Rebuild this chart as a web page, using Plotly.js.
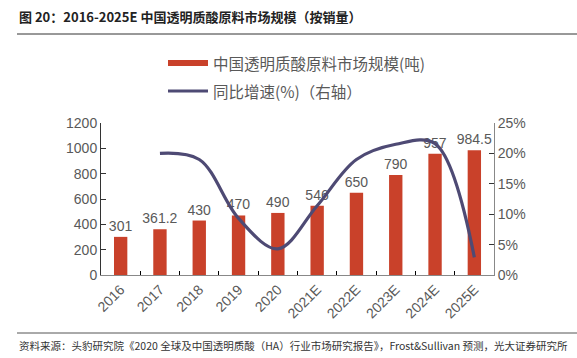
<!DOCTYPE html>
<html>
<head>
<meta charset="utf-8">
<script src="https://cdn.plot.ly/plotly-3.0.1.min.js"></script>
<style>
html,body{margin:0;padding:0;background:#fff;}
#chart{width:577px;height:358px;}
</style>
</head>
<body>
<div id="chart"></div>
<script>
var years = ['2016','2017','2018','2019','2020','2021E','2022E','2023E','2024E','2025E'];
var volume = [301, 361.2, 430, 470, 490, 546, 650, 790, 957, 984.5];
var volumeLabels = ['301','361.2','430','470','490','546','650','790','957','984.5'];
var growthYears = ['2017','2018','2019','2020','2021E','2022E','2023E','2024E','2025E'];
var growth = [20.0, 19.0, 9.3, 4.3, 11.4, 19.0, 21.5, 21.6, 2.9];
var leftTicks = [0, 200, 400, 600, 800, 1000, 1200];
var rightTicks = [0, 5, 10, 15, 20, 25];

var titleText = '图 20：2016-2025E 中国透明质酸原料市场规模（按销量）';
var barName = '中国透明质酸原料市场规模(吨)';
var lineName = '同比增速(%)（右轴）';
var sourceText = '资料来源：头豹研究院《2020 全球及中国透明质酸（HA）行业市场研究报告》，Frost&Sullivan 预测，光大证券研究所';

var gray = '#595959';
var barColor = '#C9412A';
var lineColor = '#4E4A74';
var numFont = 'Liberation Sans, Arial, sans-serif';
var cjkFont = 'Noto Sans CJK SC, sans-serif';

var traces = [
  {
    type: 'bar', x: years, y: volume, name: barName,
    marker: {color: barColor},
    text: volumeLabels, textposition: 'outside', cliponaxis: false,
    constraintext: 'none',
    textfont: {family: numFont, size: 14, color: gray},
    hoverinfo: 'none'
  },
  {
    type: 'scatter', mode: 'lines', x: growthYears, y: growth, name: lineName,
    yaxis: 'y2',
    line: {color: lineColor, width: 3.2, shape: 'spline', smoothing: 1},
    hoverinfo: 'none'
  }
];

var layout = {
  width: 577, height: 358,
  margin: {l: 101, r: 83, t: 123, b: 83},
  paper_bgcolor: '#fff', plot_bgcolor: '#fff',
  showlegend: false,
  bargap: 0.66,
  font: {family: numFont, color: gray, size: 14},
  xaxis: {
    type: 'category', tickangle: -45, tickson: 'boundaries',
    ticks: 'inside', ticklen: 4, tickcolor: '#000',
    showline: true, linecolor: '#888', linewidth: 1,
    tickfont: {family: numFont, size: 14, color: gray},
    showgrid: false, zeroline: false, fixedrange: true
  },
  yaxis: {
    range: [0, 1200], tickvals: leftTicks, ticktext: leftTicks.map(String),
    ticks: 'inside', ticklen: 5, tickcolor: '#333',
    showline: true, linecolor: '#333', linewidth: 1,
    showgrid: false, zeroline: false,
    tickfont: {family: numFont, size: 14, color: gray}
  },
  yaxis2: {
    overlaying: 'y', side: 'right', range: [0, 25],
    tickvals: rightTicks, ticktext: rightTicks.map(function(v){return v + '%';}),
    ticks: 'inside', ticklen: 5, tickcolor: '#333',
    showline: true, linecolor: '#888', linewidth: 1,
    showgrid: false, zeroline: false,
    tickfont: {family: numFont, size: 14, color: gray}
  },
  shapes: [
    {type: 'line', xref: 'paper', yref: 'paper', x0: (17-101)/393, x1: 476/393, y0: 1 + (123-34)/152, y1: 1 + (123-34)/152, line: {color: '#333', width: 1}},
    {type: 'line', xref: 'paper', yref: 'paper', x0: (17-101)/393, x1: 476/393, y0: -(333-275)/152, y1: -(333-275)/152, line: {color: '#555', width: 1}},
    {type: 'line', xref: 'paper', yref: 'paper', x0: (168-101)/393, x1: (208-101)/393, y0: (275-63)/152, y1: (275-63)/152, line: {color: barColor, width: 6}},
    {type: 'line', xref: 'paper', yref: 'paper', x0: (168-101)/393, x1: (208-101)/393, y0: (275-91)/152, y1: (275-91)/152, line: {color: lineColor, width: 3}}
  ],
  annotations: [
    {xref: 'paper', yref: 'paper', x: (17-101)/393, y: (275-16)/152, xanchor: 'left', yanchor: 'middle', showarrow: false,
     text: '<b>' + titleText + '</b>', font: {family: cjkFont, size: 13, color: '#222'}},
    {xref: 'paper', yref: 'paper', x: (211-101)/393, y: (275-63)/152, xanchor: 'left', yanchor: 'middle', showarrow: false,
     text: barName, font: {family: cjkFont, size: 15.5, color: gray}},
    {xref: 'paper', yref: 'paper', x: (211-101)/393, y: (275-91)/152, xanchor: 'left', yanchor: 'middle', showarrow: false,
     text: lineName, font: {family: cjkFont, size: 15.5, color: gray}},
    {xref: 'paper', yref: 'paper', x: (17-101)/393, y: -(345-275)/152, xanchor: 'left', yanchor: 'middle', showarrow: false,
     text: sourceText, font: {family: cjkFont, size: 10.5, color: '#333'}}
  ]
};

Plotly.newPlot('chart', traces, layout, {staticPlot: true, displayModeBar: false});
</script>
</body>
</html>
